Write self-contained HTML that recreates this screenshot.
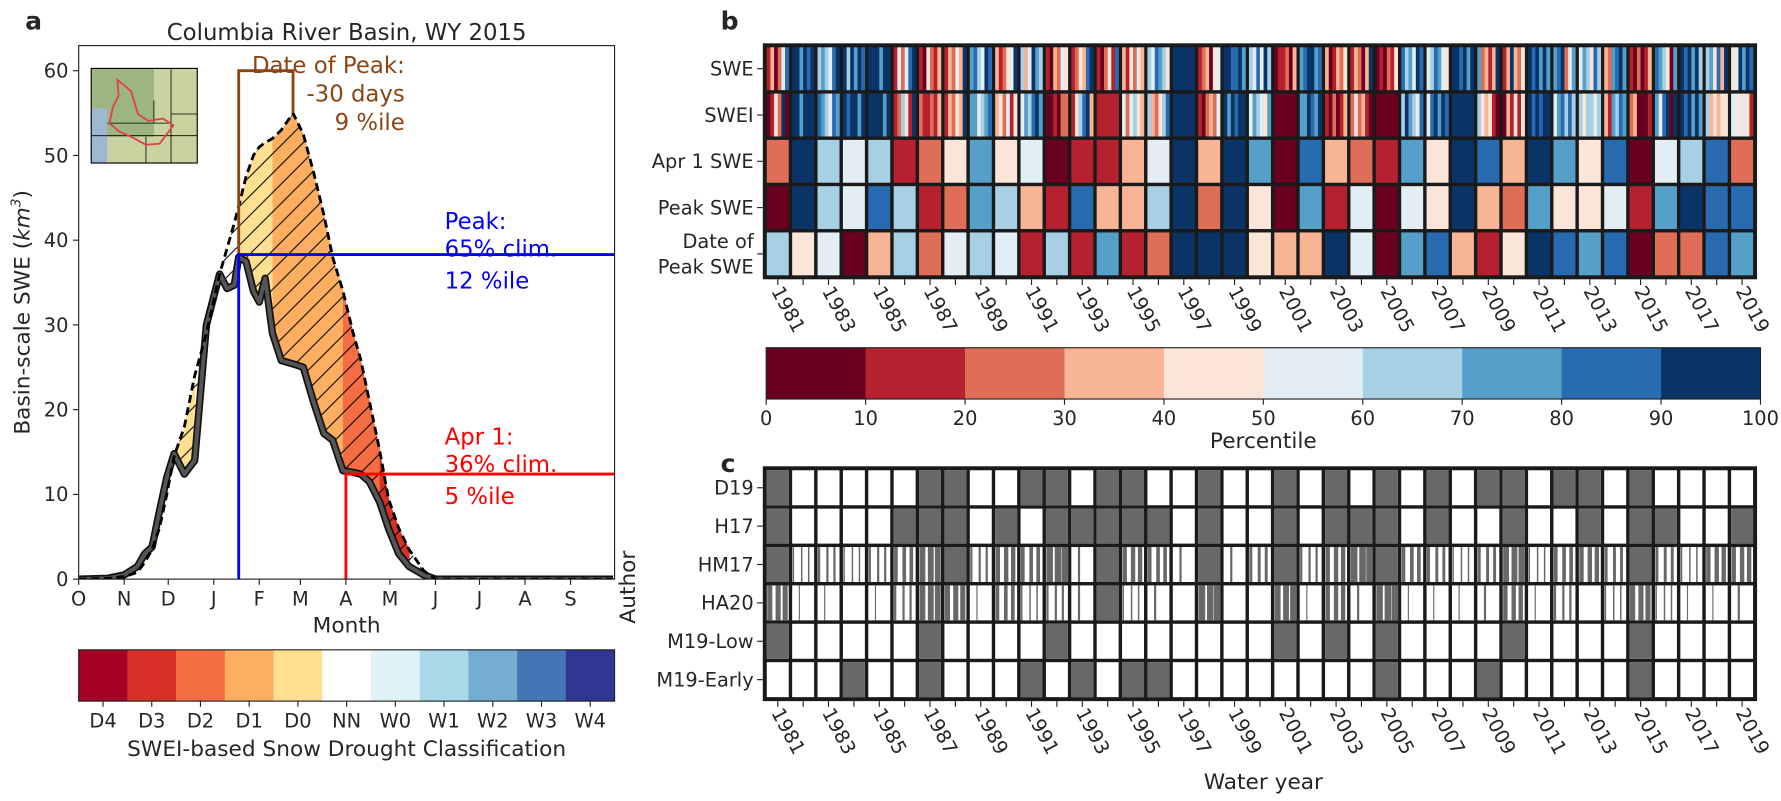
<!DOCTYPE html>
<html><head><meta charset="utf-8"><style>
html,body{margin:0;padding:0;background:#fff;}
svg{display:block;font-family:"DejaVu Sans","Liberation Sans",sans-serif;}
</style></head><body>
<svg id="fig" xmlns="http://www.w3.org/2000/svg" width="1781" height="801" viewBox="0 0 1562 702.6" preserveAspectRatio="none">
<defs>
<pattern id="hatch" patternUnits="userSpaceOnUse" width="17" height="17"><path d="M-2,19 L19,-2 M-2,2 L2,-2 M15,19 L19,15" stroke="#000" stroke-width="0.9"/></pattern>
<clipPath id="clipA"><rect x="69" y="40" width="470" height="468"/></clipPath>
</defs>
<g id="panelA"></g>
<g id="panelB"></g>
<g id="panelC"></g>
</svg>
<script>
// ---------- DATA ----------
const days = [0,20,31,40,45,50,55,60,65,72,79,87,96,101,106,109,114,119,123,127,132,138,146,153,160,167,173,180,187,192,198,205,211,218,225,235,243,260,300,364];
const climSWE = [0,0.1,0.3,0.8,2,3.5,6,10,14.5,18,24,29,36,39,42,44,47.5,50,51,51.5,52,53,55,52.5,48,43,38,34,29,26,21,15.2,9.5,6,3.5,1,0,0,0,0];
const wy2015SWE = [0,0.1,0.5,1.5,3,3.8,8,12,14.8,12.4,14,30,36,34.3,34.7,38,37.5,34,32.7,35.5,29,25.8,25.4,25,20.9,17.2,16.4,12.8,12.6,12.4,11.5,9.1,6,3,1.5,0.5,0,0,0,0];
const droughtClass = [5,5,5,4,4,5,5,5,4,4,5,5,5,5,5,4,4,4,4,4,3,3,3,3,3,3,3,2,2,2,2,1,1,1,5,5,5,5,5];
const classLabels = ["D4","D3","D2","D1","D0","NN","W0","W1","W2","W3","W4"];
const monthLabels = ["O","N","D","J","F","M","A","M","J","J","A","S"];
const monthStartDays = [0,31,61,92,123,151,182,212,243,273,304,335];
const yTicksA = [0,10,20,30,40,50,60];
const peakDay = 109, peakVal = 38.3, apr1Day = 182, apr1Val = 12.4, climPeakDay = 146, climPeakVal = 55;

const years = [1981,1982,1983,1984,1985,1986,1987,1988,1989,1990,1991,1992,1993,1994,1995,1996,1997,1998,1999,2000,2001,2002,2003,2004,2005,2006,2007,2008,2009,2010,2011,2012,2013,2014,2015,2016,2017,2018,2019];
const sweDaily = ["130258","997989","676589","969798","999799","152589","104213","132539","786598","312459","635976","103254","124389","102418","314253","658764","999999","123045","998897","658596","011203","789978","301324","132039","010214","867598","568754","998979","723139","139324","989797","789257","576486","327897","102013","876407","989796","674839","459798"];
const sweiDaily = ["014290","997999","876587","989979","999979","126419","211213","132439","775678","342514","576897","001022","146893","111111","525643","632468","999999","102325","979899","576547","000000","779879","102013","242310","000000","697658","589798","999999","643410","031414","989899","578686","646656","317687","230001","758909","989797","634344","554541"];
const apr1Pct = [25,95,65,55,65,15,25,45,75,45,55,5,15,15,35,55,95,35,95,75,5,85,35,25,15,75,45,95,85,35,95,75,45,85,5,55,65,85,25];
const peakPct = [5,95,65,55,85,65,15,25,75,65,35,15,85,35,35,65,95,25,95,45,5,75,15,55,5,55,45,95,35,25,75,45,45,55,15,75,95,85,85];
const datePct = [65,45,55,5,35,65,25,55,65,55,15,65,15,75,15,25,95,95,95,45,35,35,95,55,5,75,85,35,15,45,95,85,75,85,5,25,25,85,75];
const rowLabelsB = ["SWE","SWEI","Apr 1 SWE","Peak SWE","Date of|Peak SWE"];
const pctTicks = [0,10,20,30,40,50,60,70,80,90,100];

const authors = ["D19","H17","HM17","HA20","M19-Low","M19-Early"];
const d19 = [1,0,0,0,0,0,1,1,0,0,1,1,0,1,1,0,0,1,0,0,1,0,1,0,1,0,1,0,1,1,0,1,1,0,1,0,0,0,0];
const h17 = [1,0,0,0,0,1,1,1,0,1,0,1,1,1,1,1,0,1,0,0,1,0,1,1,1,0,1,0,0,1,0,0,1,0,1,1,0,0,1];
const hm17 = [1,0.2,0.3,0.2,0.3,0.5,0.8,1,0.3,0.6,0.5,0.9,0.1,1,0.6,0.5,0.1,1,0.1,0.4,1,0.3,0.6,0.9,1,0.5,0.4,0.2,0.4,0.8,0.2,0.5,0.6,0.4,1,0.4,0.2,0.6,0.6];
const ha20 = [0.7,0.05,0.05,0,0.05,0.3,0.8,0.7,0.05,0.5,0.2,0.3,0.1,1,0.2,0.1,0,0.9,0,0,0.8,0.05,0.6,0.1,0.9,0.05,0.05,0.05,0.1,0.6,0.05,0.3,0,0.2,0.7,0.2,0.05,0.05,0.1];
const m19Low = [1,0,0,0,0,0,1,0,0,0,0,1,0,0,0,0,0,0,0,0,1,0,1,0,1,0,0,0,0,1,0,0,0,0,1,0,0,0,0];
const m19Early = [0,0,0,1,0,0,1,0,0,0,1,0,1,0,1,1,0,0,0,0,0,0,0,0,1,0,0,0,1,0,0,0,0,0,1,0,0,0,0];

// ---------- HELPERS ----------
const NS = "http://www.w3.org/2000/svg";
function mk(parent, tag, attrs, txt){
  const e = document.createElementNS(NS, tag);
  for (const k in attrs) e.setAttribute(k, attrs[k]);
  if (txt !== undefined) e.textContent = txt;
  parent.appendChild(e);
  return e;
}
const TXT = "#262626";
const classColors = ["#a50026","#d73027","#f46d43","#fdae61","#fee090","#ffffff","#e0f3f8","#abd9e9","#74add1","#4575b4","#313695"];
const pctColors = ["#6a0020","#b6212f","#de6e58","#f7b596","#fbe5d9","#e3eef4","#a8d0e4","#569fc9","#286bb0","#0a3366"];

// ---------- PANEL A ----------
const A = document.getElementById("panelA");
const ax0=69, ax1=539, ay0=40, ay1=508;
const xA = d => ax0 + d*(ax1-ax0)/365;
const yA = v => ay1 - v*7.433;

let t;
t = mk(A,"text",{x:22,y:26,"font-size":22,"font-weight":"bold",fill:TXT},"a");


t = mk(A,"text",{x:304,y:35,"font-size":20,"text-anchor":"middle",fill:TXT},"Columbia River Basin, WY 2015");



const plotA = mk(A,"g",{"clip-path":"url(#clipA)"});


for (let i=0;i<days.length-1;i++){
  const c = droughtClass[i];
  if (c===5) continue;
  const p = `${xA(days[i])},${yA(climSWE[i])} ${xA(days[i+1])+0.5},${yA(climSWE[i+1])} ${xA(days[i+1])+0.5},${yA(wy2015SWE[i+1])} ${xA(days[i])},${yA(wy2015SWE[i])}`;
  const poly = mk(plotA,"polygon",{points:p,fill:classColors[c],stroke:"none"});
  
  
}
{
  let top=[],bot=[];
  for (let i=0;i<days.length;i++){ if(days[i]>=40&&days[i]<=235){ top.push(`${xA(days[i])},${yA(climSWE[i])}`); bot.unshift(`${xA(days[i])},${yA(wy2015SWE[i])}`);} }
  const h = mk(plotA,"polygon",{points:top.concat(bot).join(" "),fill:"url(#hatch)"});
  
  
}
const wyPts = days.map((d,i)=>`${xA(d)},${yA(wy2015SWE[i])}`).join(" ");
const climPts = days.map((d,i)=>`${xA(d)},${yA(climSWE[i])}`).join(" ");
let l = mk(plotA,"polyline",{points:wyPts,fill:"none",stroke:"#111","stroke-width":6.5,"stroke-linejoin":"round"});


l = mk(plotA,"polyline",{points:wyPts,fill:"none",stroke:"#555","stroke-width":3.5,"stroke-linejoin":"round"});


l = mk(plotA,"polyline",{points:climPts,fill:"none",stroke:"#000","stroke-width":2.5,"stroke-dasharray":"7,4"});


l = mk(A,"polyline",{points:`${xA(peakDay)},${yA(peakVal)} ${xA(peakDay)},${yA(60)} ${xA(climPeakDay)},${yA(60)} ${xA(climPeakDay)},${yA(climPeakVal)}`,fill:"none",stroke:"#8b4513","stroke-width":2.5});


l = mk(A,"polyline",{points:`${xA(peakDay)},${ay1} ${xA(peakDay)},${yA(peakVal)} ${ax1},${yA(peakVal)}`,fill:"none",stroke:"#0000ff","stroke-width":2.5});


l = mk(A,"polyline",{points:`${xA(apr1Day)},${ay1} ${xA(apr1Day)},${yA(apr1Val)} ${ax1},${yA(apr1Val)}`,fill:"none",stroke:"#ff0000","stroke-width":2.5});


const ann = [["Date of Peak:",355,64,"#8b4513","end"],["-30 days",355,89,"#8b4513","end"],["9 %ile",355,114,"#8b4513","end"],
 ["Peak:",390,201,"#0000ff","start"],["65% clim.",390,225,"#0000ff","start"],["12 %ile",390,253,"#0000ff","start"],
 ["Apr 1:",390,390,"#ff0000","start"],["36% clim.",390,414,"#ff0000","start"],["5 %ile",390,442,"#ff0000","start"]];
ann.forEach(a=>{ const e=mk(A,"text",{x:a[1],y:a[2],"font-size":20,fill:a[3],"text-anchor":a[4]},a[0]);
  
   });
{
  const g = mk(A,"g",{});
  
  
  mk(g,"rect",{x:80,y:60,width:93,height:83,fill:"#c9d3a0"});
  mk(g,"rect",{x:80,y:60,width:55,height:60,fill:"#8aa872",opacity:0.7});
  mk(g,"rect",{x:80,y:95,width:14,height:48,fill:"#9fb8d0"});
  mk(g,"path",{d:"M80,119 H173 M150,60 V143 M128,120 V143 M150,100 H173 M135,88 V108 M94,108 H150",fill:"none",stroke:"#000","stroke-width":0.7});
  mk(g,"path",{d:"M103,70 L115,80 L121,100 L130,106 L143,104 L152,110 L140,126 L128,127 L117,121 L104,115 L96,108 L99,94 L104,84 Z",fill:"none",stroke:"#e0404a","stroke-width":1.6});
  mk(g,"rect",{x:80,y:60,width:93,height:83,fill:"none",stroke:"#000","stroke-width":1});
}
let fr = mk(A,"rect",{x:ax0,y:ay0,width:ax1-ax0,height:ay1-ay0,fill:"none",stroke:"#222","stroke-width":1});


yTicksA.forEach(v=>{
  mk(A,"line",{x1:ax0-5,x2:ax0,y1:yA(v),y2:yA(v),stroke:"#222"});
  const e=mk(A,"text",{x:ax0-9,y:yA(v)+6,"font-size":17,"text-anchor":"end",fill:TXT},String(v));
  
  
});
monthLabels.forEach((m,i)=>{
  const x=xA(monthStartDays[i]);
  mk(A,"line",{x1:x,x2:x,y1:ay1,y2:ay1+5,stroke:"#222"});
  const e=mk(A,"text",{x:x,y:ay1+23,"font-size":17,"text-anchor":"middle",fill:TXT},m);
  
  
});
t = mk(A,"text",{x:304,y:555,"font-size":19,"text-anchor":"middle",fill:TXT},"Month");


t = mk(A,"text",{x:0,y:0,"font-size":19,"text-anchor":"middle",fill:TXT,transform:"translate(26,274) rotate(-90)"});


t.innerHTML = 'Basin-scale SWE (<tspan font-style="italic">km</tspan><tspan font-size="12" dy="-8" font-style="italic">3</tspan><tspan dy="8">)</tspan>';
{
  const cx0=69, cw=470/11, cy=570, ch=45;
  classLabels.forEach((c,i)=>{
    const r=mk(A,"rect",{x:cx0+i*cw,y:cy,width:cw+0.3,height:ch,fill:classColors[i]});
    
    
    mk(A,"line",{x1:cx0+(i+0.5)*cw,x2:cx0+(i+0.5)*cw,y1:cy+ch,y2:cy+ch+5,stroke:"#222"});
    const e=mk(A,"text",{x:cx0+(i+0.5)*cw,y:cy+ch+23,"font-size":17,"text-anchor":"middle",fill:TXT},c);
    
    
  });
  mk(A,"rect",{x:cx0,y:cy,width:470,height:ch,fill:"none",stroke:"#222"});
  t=mk(A,"text",{x:304,y:663,"font-size":19,"text-anchor":"middle",fill:TXT},"SWEI-based Snow Drought Classification");
  
  
}

// ---------- PANEL B ----------
const B = document.getElementById("panelB");
const bx0=671, bx1=1539, by0=40, by1=243, nY=years.length;
const colW=(bx1-bx0)/nY, rowH=(by1-by0)/5, gap=3;
const xB = i => bx0 + i*colW;
const yB = r => by0 + r*rowH;
const binOf = p => Math.min(9,Math.floor(p/10));
t = mk(B,"text",{x:632,y:26,"font-size":22,"font-weight":"bold",fill:TXT},"b");


let bg = mk(B,"rect",{x:bx0-2,y:by0-2,width:bx1-bx0+4,height:by1-by0+4,fill:"#1a1a1a"});


const stripeRows=[sweDaily,sweiDaily];
stripeRows.forEach((arr,r)=>{
  years.forEach((yr,i)=>{
    const s=arr[i], w=(colW-gap)/s.length;
    for(let k=0;k<s.length;k++){
      const c=mk(B,"rect",{x:xB(i)+gap/2+k*w,y:yB(r)+gap/2,width:w+0.2,height:rowH-gap,fill:pctColors[+s[k]]});
      
      
    }
  });
});
[apr1Pct,peakPct,datePct].forEach((arr,j)=>{
  const r=j+2;
  arr.forEach((p,i)=>{
    const c=mk(B,"rect",{x:xB(i)+gap/2,y:yB(r)+gap/2,width:colW-gap,height:rowH-gap,fill:pctColors[binOf(p)]});
    
    
  });
});
rowLabelsB.forEach((lab,r)=>{
  const parts=lab.split("|"), yc=yB(r)+rowH/2;
  mk(B,"line",{x1:bx0-7,x2:bx0-2,y1:yc,y2:yc,stroke:"#222"});
  parts.forEach((p,k)=>{
    const e=mk(B,"text",{x:bx0-10,y:yc+6+(k-(parts.length-1)/2)*22,"font-size":17,"text-anchor":"end",fill:TXT},p);
    
    
  });
});
function yearAxis(G, yBase){
  years.forEach((yr,i)=>{
    const x=xB(i)+colW/2;
    mk(G,"line",{x1:x,x2:x,y1:yBase+2,y2:yBase+7,stroke:"#222"});
    if(i%2===0){
      const e=mk(G,"text",{x:0,y:0,"font-size":17,fill:TXT,transform:`translate(${x-6},${yBase+12}) rotate(62)`},String(yr));
      
      
    }
  });
}
yearAxis(B, by1);
{
  const cx0=672, cx1=1544, cy=305, ch=45, w=(cx1-cx0)/10;
  pctColors.forEach((c,i)=>{
    const r=mk(B,"rect",{x:cx0+i*w,y:cy,width:w+0.3,height:ch,fill:c});
    
    
  });
  mk(B,"rect",{x:cx0,y:cy,width:cx1-cx0,height:ch,fill:"none",stroke:"#222"});
  pctTicks.forEach((v,i)=>{
    const x=cx0+i*w;
    mk(B,"line",{x1:x,x2:x,y1:cy+ch,y2:cy+ch+5,stroke:"#222"});
    const e=mk(B,"text",{x:x,y:cy+ch+23,"font-size":17,"text-anchor":"middle",fill:TXT},String(v));
    
    
  });
  t=mk(B,"text",{x:1108,y:393,"font-size":19,"text-anchor":"middle",fill:TXT},"Percentile");
  
  
}

// ---------- PANEL C ----------
const C = document.getElementById("panelC");
const cy0=411, cy1=613, cRowH=(cy1-cy0)/6;
const yC = r => cy0 + r*cRowH;
t = mk(C,"text",{x:632,y:414,"font-size":22,"font-weight":"bold",fill:TXT},"c");


bg = mk(C,"rect",{x:bx0-2,y:cy0-2,width:bx1-bx0+4,height:cy1-cy0+4,fill:"#1a1a1a"});


const GRAY="#686868";
[d19,h17,hm17,ha20,m19Low,m19Early].forEach((arr,r)=>{
  arr.forEach((f,i)=>{
    const x=xB(i)+gap/2, y=yC(r)+gap/2, w=colW-gap, h=cRowH-gap;
    const cell=mk(C,"rect",{x:x,y:y,width:w,height:h,fill:"#fff"});
    
    
    if(f>=0.95){ const g=mk(C,"rect",{x:x,y:y,width:w,height:h,fill:GRAY});   }
    else if(f>=0.15){
      [0.02,0.4,0.72].forEach(off=>{
        const g=mk(C,"rect",{x:x+off*w,y:y,width:f/3*w,height:h,fill:GRAY});
        
        
      });
    } else if(f>0){
      const g=mk(C,"rect",{x:x+0.3*w,y:y,width:Math.max(1,f*w),height:h,fill:GRAY});
      
      
    }
  });
});
authors.forEach((a,r)=>{
  const yc=yC(r)+cRowH/2;
  mk(C,"line",{x1:bx0-7,x2:bx0-2,y1:yc,y2:yc,stroke:"#222"});
  const e=mk(C,"text",{x:bx0-10,y:yc+6,"font-size":17,"text-anchor":"end",fill:TXT},a);
  
  
});
yearAxis(C, cy1);
t=mk(C,"text",{x:1108,y:692,"font-size":19,"text-anchor":"middle",fill:TXT},"Water year");


t=mk(C,"text",{x:0,y:0,"font-size":19,"text-anchor":"middle",fill:TXT,transform:"translate(557,515) rotate(-90)"},"Author");


</script>
</body></html>
